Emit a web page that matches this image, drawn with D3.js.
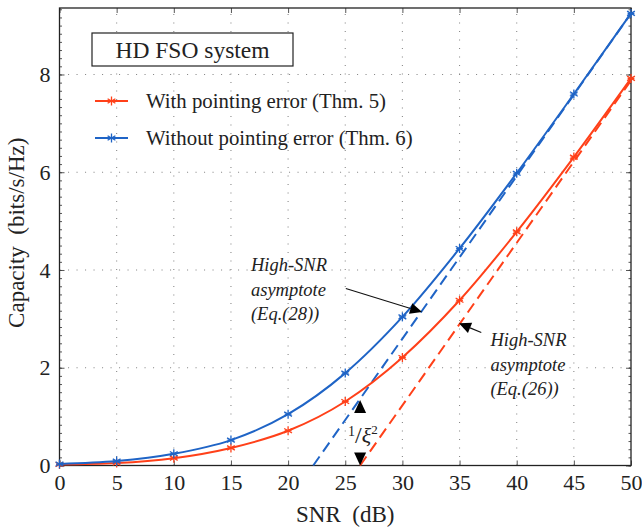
<!DOCTYPE html>
<html>
<head>
<meta charset="utf-8">
<script src="https://cdn.jsdelivr.net/npm/d3@7"></script>
<style>
  html, body { margin: 0; padding: 0; background: #fff; }
  svg { display: block; }
</style>
</head>
<body>
<svg id="chart" width="642" height="529"></svg>
<script>
// SNR grid (dB) and ergodic capacity values (bits/s/Hz)
const snrDb = [0, 5, 10, 15, 20, 25, 30, 35, 40, 45, 50];
const capWithPE = [0.02, 0.05, 0.15, 0.36, 0.71, 1.31, 2.21, 3.38, 4.78, 6.31, 7.92];
const capWithoutPE = [0.03, 0.09, 0.24, 0.52, 1.05, 1.89, 3.04, 4.44, 5.98, 7.60, 9.25];

// High-SNR asymptotes: [SNR, capacity] end points
const asymWithPE = [[26.3, 0], [50, 7.88]];
const asymWithoutPE = [[22.2, 0], [50, 9.25]];

const xTicks = [0, 5, 10, 15, 20, 25, 30, 35, 40, 45, 50];
const yTicks = [0, 2, 4, 6, 8];

const seriesNames = ["With pointing error (Thm. 5)", "Without pointing error (Thm. 6)"];
const RED = "#ff4019";
const BLUE = "#1f64c6";
const SERIF = "Liberation Serif";

const margin = {left: 59.5, right: 11, top: 8, bottom: 63.5};
const W = 642, H = 529;
const svg = d3.select("#chart");

const x = d3.scaleLinear().domain([0, 50]).range([margin.left, W - margin.right]);
const y = d3.scaleLinear().domain([0, 9.36]).range([H - margin.bottom, margin.top]);
const x0 = x.range()[0], x1 = x.range()[1], y0 = y.range()[0], y1 = y.range()[1];

function txt(parent, size) {
  return parent.append("text").attr("font-size", size).style("font-family", SERIF).attr("fill", "#222");
}

// dotted grid
const grid = svg.append("g").attr("stroke", "#8a8a8a").attr("stroke-width", 1.1)
  .attr("stroke-dasharray", "1.1,7.4");
xTicks.slice(1, -1).forEach(t => grid.append("line")
  .attr("x1", x(t)).attr("x2", x(t)).attr("y1", y0).attr("y2", y1));
yTicks.slice(1).forEach(t => grid.append("line")
  .attr("x1", x0).attr("x2", x1).attr("y1", y(t)).attr("y2", y(t)));

// axes with inward ticks on all four sides
const axB = d3.axisBottom(x).tickValues(xTicks).tickSize(-5).tickPadding(9).tickFormat(d3.format("d"));
const axT = d3.axisTop(x).tickValues(xTicks).tickSize(-5).tickFormat("");
const axL = d3.axisLeft(y).tickValues(yTicks).tickSize(-5).tickPadding(9).tickFormat(d3.format("d"));
const axR = d3.axisRight(y).tickValues(yTicks).tickSize(-5).tickFormat("");
const minorY = d3.range(0, 9.36, 1 / 6);
const axLm = d3.axisLeft(y).tickValues(minorY).tickSize(-2.5).tickFormat("");
const axRm = d3.axisRight(y).tickValues(minorY).tickSize(-2.5).tickFormat("");

function styleAxis(g) {
  g.attr("font-family", null).attr("font-size", null);
  g.select(".domain").remove();
  g.selectAll(".tick line").attr("stroke", "#444").attr("stroke-width", 0.9);
  g.selectAll(".tick text").attr("fill", "#222").attr("font-size", 22)
    .style("font-family", SERIF);
}
svg.append("g").attr("transform", `translate(0,${y0})`).call(axB).call(styleAxis);
svg.append("g").attr("transform", `translate(0,${y1})`).call(axT).call(styleAxis);
svg.append("g").attr("transform", `translate(${x0},0)`).call(axL).call(styleAxis);
svg.append("g").attr("transform", `translate(${x1},0)`).call(axR).call(styleAxis);
svg.append("g").attr("transform", `translate(${x0},0)`).call(axLm).call(styleAxis);
svg.append("g").attr("transform", `translate(${x1},0)`).call(axRm).call(styleAxis);

// frame
svg.append("rect").attr("x", x0).attr("y", y1).attr("width", x1 - x0).attr("height", y0 - y1)
  .attr("fill", "none").attr("stroke", "#222").attr("stroke-width", 1.3);

// asymptotes (dashed)
const lineXY = d3.line().x(d => x(d[0])).y(d => y(d[1]));
[[asymWithoutPE, BLUE], [asymWithPE, RED]].forEach(([pts, c]) => {
  svg.append("path").attr("d", lineXY(pts)).attr("fill", "none").attr("stroke", c)
    .attr("stroke-width", 2).attr("stroke-dasharray", "11,6");
});

// capacity curves
const curve = d3.line().x((d, i) => x(snrDb[i])).y(d => y(d)).curve(d3.curveMonotoneX);
function star(g, cx, cy, c, r) {
  const s = g.append("g").attr("transform", `translate(${cx},${cy})`)
    .attr("stroke", c).attr("stroke-width", 1.3);
  for (let k = 0; k < 3; k++) {
    const a = Math.PI / 2 + k * Math.PI / 3;
    s.append("line").attr("x1", r * Math.cos(a)).attr("y1", r * Math.sin(a))
      .attr("x2", -r * Math.cos(a)).attr("y2", -r * Math.sin(a));
  }
  s.append("line").attr("x1", -r * 0.75).attr("x2", r * 0.75).attr("y1", 0).attr("y2", 0);
}
[[capWithPE, RED], [capWithoutPE, BLUE]].forEach(([vals, c]) => {
  svg.append("path").attr("d", curve(vals)).attr("fill", "none").attr("stroke", c)
    .attr("stroke-width", 2);
  const mk = svg.append("g");
  vals.forEach((v, i) => star(mk, x(snrDb[i]), y(v), c, 4.5));
});

// title box
svg.append("rect").attr("x", 92).attr("y", 33).attr("width", 201).attr("height", 33)
  .attr("fill", "#fff").attr("stroke", "#222").attr("stroke-width", 1.2);
txt(svg, 23.5).attr("x", 192.5).attr("y", 57.5).attr("text-anchor", "middle").text("HD FSO system");

// legend
[[seriesNames[0], RED, 101], [seriesNames[1], BLUE, 138]].forEach(([name, c, ly]) => {
  svg.append("line").attr("x1", 95).attr("x2", 128).attr("y1", ly).attr("y2", ly)
    .attr("stroke", c).attr("stroke-width", 2);
  star(svg, 111.5, ly, c, 4.5);
  txt(svg, 20.8).attr("x", 146).attr("y", ly + 6.5).text(name);
});

// annotations
function arrow(xa, ya, xb, yb) {
  const ax = x(xa), ay = y(ya), bx = x(xb), by = y(yb);
  const ang = Math.atan2(by - ay, bx - ax);
  const L = 12, Wd = 5.5;
  const ex = bx - L * Math.cos(ang), ey = by - L * Math.sin(ang);
  svg.append("line").attr("x1", ax).attr("y1", ay).attr("x2", ex).attr("y2", ey)
    .attr("stroke", "#111").attr("stroke-width", 1.1);
  const px = -Math.sin(ang) * Wd, py = Math.cos(ang) * Wd;
  svg.append("path").attr("d", `M${bx},${by}L${ex + px},${ey + py}L${ex - px},${ey - py}Z`)
    .attr("fill", "#000");
}
function noteLines(xv, yTop, lines) {
  const t = txt(svg, 18.5).attr("x", x(xv)).attr("y", yTop).attr("font-style", "italic");
  lines.forEach((s, i) => t.append("tspan").attr("x", x(xv)).attr("dy", i ? 24.5 : 0).text(s));
}
noteLines(16.75, 271, ["High-SNR", "asymptote", "(Eq.(28))"]);
arrow(25.05, 3.62, 31.72, 3.14);
noteLines(37.7, 346, ["High-SNR", "asymptote", "(Eq.(26))"]);
arrow(36.9, 2.72, 34.95, 2.91);

// gap between the two asymptote intercepts
const gx = x(26.3);
svg.append("path").attr("d", `M${gx},${y(1.34)}l-6,13h12Z`).attr("fill", "#000");
svg.append("path").attr("d", `M${gx},${y(0)}l-6,-13h12Z`).attr("fill", "#000");
const xi = txt(svg, 22).attr("x", gx - 12).attr("y", 443);
xi.append("tspan").attr("font-size", 14).attr("dy", -7).text("1");
xi.append("tspan").attr("font-size", 24).attr("dy", 7).text("/");
xi.append("tspan").attr("font-size", 22).attr("font-style", "italic").text("ξ");
xi.append("tspan").attr("font-size", 13).attr("dy", -9).text("2");

// axis titles
txt(svg, 23).attr("x", (x0 + x1) / 2).attr("y", 522).attr("text-anchor", "middle")
  .text("SNR\u00a0 (dB)");
txt(svg, 23).attr("transform", `translate(24,${(y0 + y1) / 2 - 4}) rotate(-90)`)
  .attr("text-anchor", "middle").text("Capacity\u00a0 (bits/s/Hz)");
</script>
</body>
</html>
